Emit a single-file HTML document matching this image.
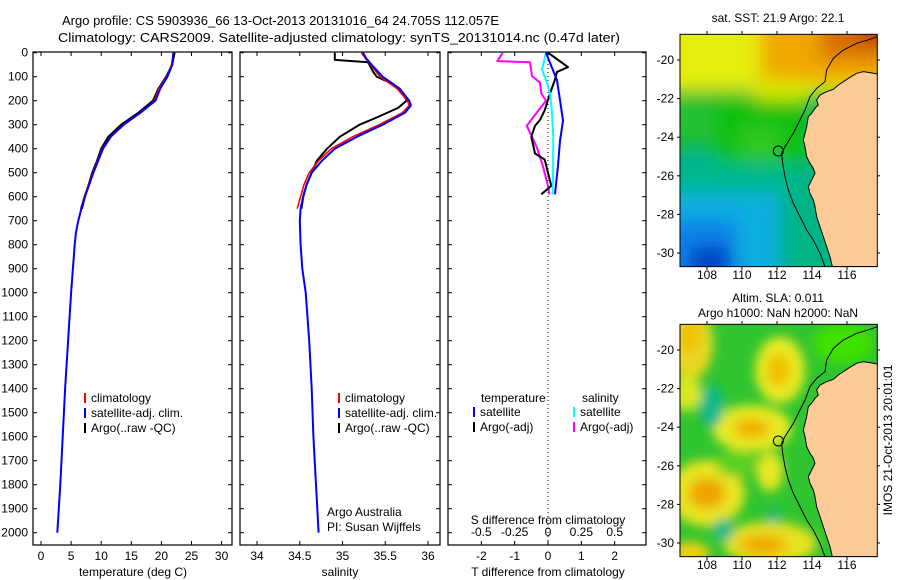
<!DOCTYPE html>
<html><head><meta charset="utf-8"><style>
body{margin:0;background:#fff;}
svg{display:block;font-family:"Liberation Sans",sans-serif;}
</style></head><body>
<svg id="fig" width="900" height="580" viewBox="0 0 900 580">
<defs>
<filter id="blur1" x="-20%" y="-20%" width="140%" height="140%"><feGaussianBlur stdDeviation="28"/></filter>
<filter id="blur2" x="-20%" y="-20%" width="140%" height="140%"><feGaussianBlur stdDeviation="16"/></filter>
<clipPath id="mapclip"><rect x="30" y="103" width="592" height="697"/></clipPath>
</defs>
<text x="62" y="25" font-size="13">Argo profile: CS 5903936_66 13-Oct-2013 20131016_64 24.705S 112.057E</text>
<text x="58" y="42" font-size="13" textLength="562" lengthAdjust="spacingAndGlyphs">Climatology: CARS2009. Satellite-adjusted climatology: synTS_20131014.nc (0.47d later)</text>

<g id="p1"></g>
<g id="p2"></g>
<g id="p3"></g>

<!-- Map 1: SST -->
<g>
<text x="778" y="22" font-size="12" text-anchor="middle">sat. SST: 21.9 Argo: 22.1</text>
<g transform="translate(670,0) scale(0.3333)">
<g clip-path="url(#mapclip)">
<rect x="30" y="103" width="592" height="697" fill="#00b486"/>
<g filter="url(#blur1)">
<rect x="-50" y="40" width="720" height="250" fill="#e6ee10"/>
<rect x="270" y="40" width="420" height="210" fill="#f0a800"/>
<rect x="450" y="40" width="240" height="140" fill="#d87000"/>
<rect x="560" y="40" width="120" height="90" fill="#c04400"/>
<rect x="260" y="240" width="150" height="100" fill="#d8ec00"/>
<rect x="-50" y="270" width="300" height="170" fill="#20c030"/>
<rect x="140" y="300" width="280" height="190" fill="#10c010"/>
<rect x="210" y="380" width="120" height="100" fill="#30c820"/>
<rect x="-50" y="490" width="420" height="110" fill="#00b890"/>
<rect x="-50" y="580" width="380" height="300" fill="#10aee0"/>
<rect x="-50" y="660" width="250" height="200" fill="#0a80e8"/>
<rect x="60" y="740" width="120" height="100" fill="#0040c0"/>
</g>
<path d="M622,222 600,218 580,215 560,220 540,232 520,245 505,255 490,268 470,275 450,285 440,300 445,315 435,325 425,340 415,350 410,380 400,420 405,440 410,470 420,490 430,505 435,520 425,540 415,560 420,580 430,600 435,620 440,650 450,680 460,710 470,740 480,770 487,800 640,800 640,222Z" fill="#fdcb98" stroke="#000" stroke-width="3"/>
<path d="M622,110 600,118 560,130 520,150 490,175 470,210 465,245 440,265 420,290 405,330 390,360 370,400 345,440 335,460 338,490 345,530 355,570 370,610 390,650 410,690 430,720 450,760 465,800" fill="none" stroke="#000" stroke-width="3"/>
</g>
<rect x="30" y="103" width="592" height="697" fill="none" stroke="#000" stroke-width="3"/>
<circle cx="325" cy="453" r="15" fill="none" stroke="#000" stroke-width="3"/>
</g>
</g>

<!-- Map 2: SLA -->
<g>
<text x="778" y="302" font-size="12" text-anchor="middle">Altim. SLA: 0.011</text>
<text x="778" y="317" font-size="12" text-anchor="middle">Argo h1000: NaN h2000: NaN</text>
<g transform="translate(670,290) scale(0.3333)">
<g clip-path="url(#mapclip)">
<rect x="30" y="103" width="592" height="697" fill="#30c430"/>
<g filter="url(#blur2)">
<ellipse cx="330" cy="240" rx="75" ry="100" fill="#e8ea20"/>
<ellipse cx="325" cy="240" rx="35" ry="50" fill="#f0c000"/>
<ellipse cx="245" cy="415" rx="120" ry="70" fill="#e8ea20"/>
<ellipse cx="245" cy="415" rx="55" ry="30" fill="#f0b400"/>
<ellipse cx="110" cy="610" rx="115" ry="100" fill="#e8e420"/>
<ellipse cx="110" cy="610" rx="55" ry="45" fill="#f0a400"/>
<ellipse cx="300" cy="760" rx="140" ry="65" fill="#e8e020"/>
<ellipse cx="280" cy="765" rx="70" ry="30" fill="#f0ac00"/>
<ellipse cx="60" cy="160" rx="70" ry="110" fill="#e8d820"/>
<ellipse cx="60" cy="140" rx="30" ry="50" fill="#f0c000"/>
<ellipse cx="50" cy="310" rx="45" ry="55" fill="#d8e820"/>
<ellipse cx="300" cy="545" rx="40" ry="60" fill="#e8e820"/>
<ellipse cx="60" cy="790" rx="60" ry="35" fill="#f0d010"/>
<ellipse cx="125" cy="350" rx="35" ry="65" fill="#10b890"/>
<ellipse cx="160" cy="720" rx="30" ry="35" fill="#10b890"/>
<ellipse cx="310" cy="680" rx="22" ry="22" fill="#10b890"/>
<ellipse cx="520" cy="160" rx="90" ry="60" fill="#40e000"/>
<ellipse cx="200" cy="520" rx="60" ry="40" fill="#58d020"/>
</g>
<path d="M622,222 600,218 580,215 560,220 540,232 520,245 505,255 490,268 470,275 450,285 440,300 445,315 435,325 425,340 415,350 410,380 400,420 405,440 410,470 420,490 430,505 435,520 425,540 415,560 420,580 430,600 435,620 440,650 450,680 460,710 470,740 480,770 487,800 640,800 640,222Z" fill="#fdcb98" stroke="#000" stroke-width="3"/>
<path d="M622,110 600,118 560,130 520,150 490,175 470,210 465,245 440,265 420,290 405,330 390,360 370,400 345,440 335,460 338,490 345,530 355,570 370,610 390,650 410,690 430,720 450,760 465,800" fill="none" stroke="#000" stroke-width="3"/>
</g>
<rect x="30" y="103" width="592" height="697" fill="none" stroke="#000" stroke-width="3"/>
<circle cx="325" cy="453" r="15" fill="none" stroke="#000" stroke-width="3"/>
</g>
</g>
<g id="maptext"></g>
<text transform="translate(892,440) rotate(-90)" font-size="12" text-anchor="middle">IMOS 21-Oct-2013 20:01:01</text>
</svg>
<script>
// ---- data ----
const depthTicks = [0,100,200,300,400,500,600,700,800,900,1000,1100,1200,1300,1400,1500,1600,1700,1800,1900,2000];
const tempTicks = [0,5,10,15,20,25,30];
const salTicks = [34,34.5,35,35.5,36];
const tDiffTicks = [-2,-1,0,1,2];
const sDiffTicks = [-0.5,-0.25,0,0.25,0.5];
const sDiffTickLabels = ["-0.5","-0.25","0","0.25","0.5"];

const satTDepth = [0,50,100,150,200,250,300,350,400,450,500,550,600,650,700,750,800,900,1000,1200,1400,1600,1800,2000];
const satT = [22.0,21.8,21.0,19.8,19.0,16.5,13.7,11.6,10.3,9.5,8.7,8.0,7.3,6.7,6.2,5.8,5.6,5.3,5.0,4.5,4.0,3.6,3.2,2.7];
const climTDepth = [0,50,100,150,200,250,300,350,400,450,500,550,600,650];
const climT = [22.0,21.7,20.9,19.6,18.8,16.6,13.8,11.6,10.2,9.4,8.6,7.9,7.2,6.6];
const argoTDepth = [0,50,100,150,200,250,300,350,400,450,500,550,600,650];
const argoT = [22.2,21.8,20.8,19.5,18.6,16.2,13.3,11.2,10.0,9.3,8.5,7.9,7.3,6.8];

const satSDepth = [0,25,50,100,150,200,220,250,300,350,400,450,500,550,600,650,700,800,900,1000,1200,1400,1600,1800,2000];
const satS = [35.24,35.28,35.34,35.47,35.67,35.78,35.80,35.73,35.47,35.17,34.91,34.76,34.64,34.58,34.54,34.51,34.50,34.51,34.53,34.57,34.61,34.64,34.66,34.69,34.72];
const climSDepth = [0,25,50,100,150,200,220,250,300,350,400,450,500,550,600,650];
const climS = [35.22,35.27,35.33,35.44,35.64,35.76,35.78,35.70,35.43,35.12,34.87,34.72,34.61,34.55,34.51,34.47];
const argoSDepth = [0,30,40,60,80,100,130,170,200,230,270,300,350,400,450,500,550,600,650];
const argoS = [34.91,34.91,35.30,35.33,35.36,35.40,35.59,35.71,35.75,35.65,35.40,35.20,34.97,34.82,34.70,34.64,34.58,34.54,34.52];

const satTDiffDepth = [0,73,115,198,283,367,470,590];
const satTDiff = [-0.06,0.15,0.27,0.36,0.45,0.36,0.30,0.21];
const argoTDiffDepth = [0,20,60,80,115,170,240,280,305,350,420,445,500,555,590];
const argoTDiff = [0.0,0.2,0.6,0.27,0.2,0.06,-0.1,-0.24,-0.39,-0.5,-0.39,-0.1,0.0,0.1,-0.2];
const satSDiffDepth = [0,70,125,170,250,350,470,590];
const satSDiff = [-0.015,-0.045,-0.008,0.015,0.03,0.04,0.038,0.035];
const argoSDiffDepth = [0,35,40,97,125,170,200,243,305,350,400,470,555,590];
const argoSDiff = [-0.34,-0.38,-0.135,-0.12,-0.06,-0.05,-0.015,-0.075,-0.16,-0.12,-0.08,-0.04,0.0,0.01];

const lonTicks = [108,110,112,114,116];
const latTicks = [-20,-22,-24,-26,-28,-30];

// ---- axes ----
const yTop = 52, yBot = 545;
const yD = d => 52.7 + d*0.24;
const xT = v => 41 + v*6.02;
const xS = v => 257 + (v-34)*85.5;
const xTd = v => 548 + v*33.33;
const xSd = v => 548 + v*133.33;
const NS = "http://www.w3.org/2000/svg";

function mk(tag, attrs, parent, text){
  const e = document.createElementNS(NS, tag);
  for (const k in attrs) e.setAttribute(k, attrs[k]);
  if (text !== undefined) e.textContent = text;
  parent.appendChild(e);
  return e;
}
function line(g, xs, ys, color, w, name){
  const pts = xs.map((x,i)=>x.toFixed(1)+","+ys[i].toFixed(1)).join(" ");
  const p = mk("polyline",{points:pts,fill:"none",stroke:color,"stroke-width":w,"stroke-linejoin":"round"},g);
  
  
}
function frame(g, x0, x1, name){
  const r = mk("rect",{x:x0,y:yTop,width:x1-x0,height:yBot-yTop,fill:"none",stroke:"#000","stroke-width":1.2},g);
  
  
  depthTicks.forEach(d=>{
    mk("line",{x1:x0,x2:x0+4,y1:yD(d),y2:yD(d),stroke:"#000"},g);
    mk("line",{x1:x1-4,x2:x1,y1:yD(d),y2:yD(d),stroke:"#000"},g);
  });
}
function xticks(g, ticks, fx, labels, ly){
  ticks.forEach((t,i)=>{
    const x = fx(t);
    mk("line",{x1:x,x2:x,y1:yTop,y2:yTop+4,stroke:"#000"},g);
    mk("line",{x1:x,x2:x,y1:yBot-4,y2:yBot,stroke:"#000"},g);
    const tx = mk("text",{x:x,y:ly,"font-size":12,"text-anchor":"middle"},g,labels[i]);
    
    
  });
}
function legend(g, x, y0, items){
  items.forEach((it,i)=>{
    const y = y0 + i*15;
    mk("rect",{x:x,y:y-9,width:2,height:10,fill:it[0]},g);
    const t = mk("text",{x:x+7,y:y,"font-size":12},g,it[1]);
    
    
  });
}

// Panel 1
const p1 = document.getElementById("p1");
frame(p1, 33, 232, "temperature-axes");
depthTicks.forEach(d=>{
  const t = mk("text",{x:28,y:yD(d)+4,"font-size":12,"text-anchor":"end"},p1,String(d));
  
  
});
xticks(p1, tempTicks, xT, tempTicks.map(String), 560);
const t1 = mk("text",{x:133,y:576,"font-size":12,"text-anchor":"middle"},p1,"temperature (deg C)");

line(p1, argoT.map(xT), argoTDepth.map(yD), "#000", 2, "argo-temperature-line");
line(p1, climT.map(xT), climTDepth.map(yD), "#f00", 1.6, "climatology-temperature-line");
line(p1, satT.map(xT), satTDepth.map(yD), "#00f", 2, "satellite-temperature-line");
legend(p1, 84, 402, [["#f00","climatology"],["#00f","satellite-adj. clim."],["#000","Argo(..raw -QC)"]]);

// Panel 2
const p2 = document.getElementById("p2");
frame(p2, 240, 440, "salinity-axes");
xticks(p2, salTicks, xS, ["34","34.5","35","35.5","36"], 560);
const t2 = mk("text",{x:340,y:576,"font-size":12,"text-anchor":"middle"},p2,"salinity");

line(p2, argoS.map(xS), argoSDepth.map(yD), "#000", 2, "argo-salinity-line");
line(p2, climS.map(xS), climSDepth.map(yD), "#f00", 1.6, "climatology-salinity-line");
line(p2, satS.map(xS), satSDepth.map(yD), "#00f", 2, "satellite-salinity-line");
legend(p2, 338, 402, [["#f00","climatology"],["#00f","satellite-adj. clim."],["#000","Argo(..raw -QC)"]]);
const a1 = mk("text",{x:327,y:516,"font-size":12},p2,"Argo Australia");

const a2 = mk("text",{x:327,y:531,"font-size":12},p2,"PI: Susan Wijffels");


// Panel 3
const p3 = document.getElementById("p3");
frame(p3, 448, 646, "difference-axes");
xticks(p3, tDiffTicks, xTd, tDiffTicks.map(String), 560);
sDiffTicks.forEach((s,i)=>{
  const t = mk("text",{x:xSd(s),y:536,"font-size":12,"text-anchor":"middle"},p3,sDiffTickLabels[i]);
  
  
});
const st = mk("text",{x:548,y:524,"font-size":12,"text-anchor":"middle"},p3,"S difference from climatology");

const tt = mk("text",{x:548,y:576,"font-size":12,"text-anchor":"middle"},p3,"T difference from climatology");

const z = mk("line",{x1:xTd(0),x2:xTd(0),y1:yTop,y2:yBot,stroke:"#000","stroke-dasharray":"1,3"},p3);

line(p3, argoSDiff.map(xSd), argoSDiffDepth.map(yD), "#f0f", 2, "argo-salinity-diff-line");
line(p3, argoTDiff.map(xTd), argoTDiffDepth.map(yD), "#000", 2, "argo-temperature-diff-line");
line(p3, satSDiff.map(xSd), satSDiffDepth.map(yD), "#0ff", 2, "satellite-salinity-diff-line");
line(p3, satTDiff.map(xTd), satTDiffDepth.map(yD), "#00f", 2, "satellite-temperature-diff-line");
const lt = mk("text",{x:481,y:402,"font-size":12},p3,"temperature");

const ls = mk("text",{x:582,y:402,"font-size":12},p3,"salinity");

legend(p3, 473, 416, [["#00f","satellite"],["#000","Argo(-adj)"]]);
legend(p3, 573, 416, [["#0ff","satellite"],["#f0f","Argo(-adj)"]]);

// Map axes
const mt = document.getElementById("maptext");
[[0,279],[290,569]].forEach(([oy,ly])=>{
  lonTicks.forEach(l=>{
    const x = 707 + (l-108)*17.5;
    mk("line",{x1:x,x2:x,y1:oy+31,y2:oy+34,stroke:"#000"},mt);
    mk("line",{x1:x,x2:x,y1:oy+267,y2:oy+270,stroke:"#000"},mt);
    const t = mk("text",{x:x,y:ly,"font-size":12,"text-anchor":"middle"},mt,String(l));
    
    
  });
  latTicks.forEach(l=>{
    const y = oy + 60 + (-20-l)*19.3;
    mk("line",{x1:677,x2:680,y1:y,y2:y,stroke:"#000"},mt);
    mk("line",{x1:877,x2:880,y1:y,y2:y,stroke:"#000"},mt);
    const t = mk("text",{x:674,y:y+4,"font-size":12,"text-anchor":"end"},mt,String(l));
    
    
  });
});
</script>
</body></html>
